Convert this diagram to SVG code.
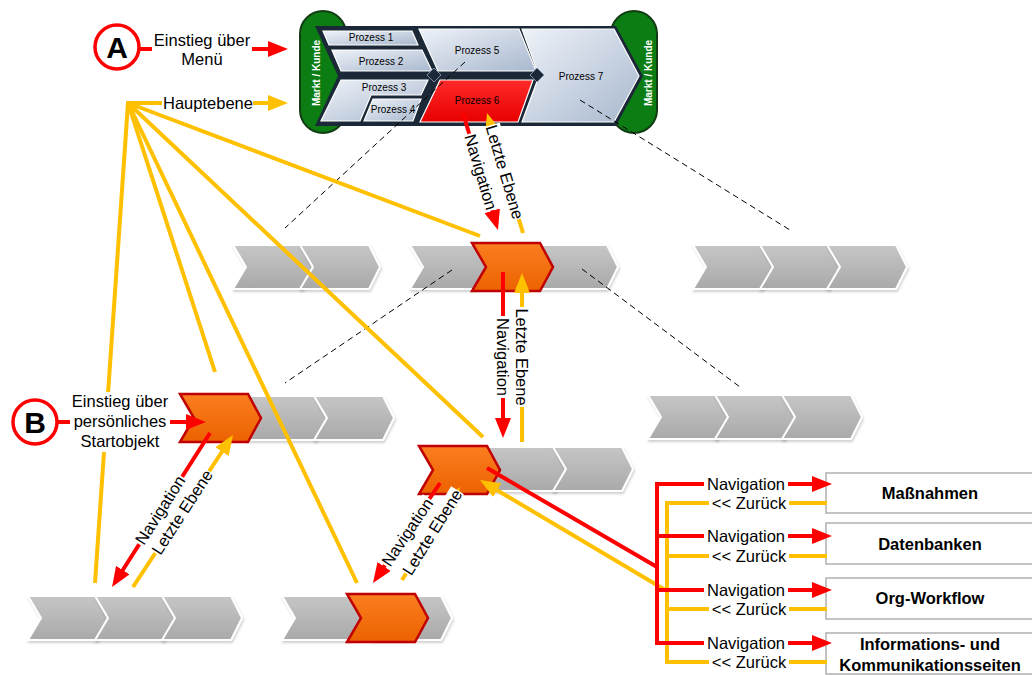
<svg xmlns="http://www.w3.org/2000/svg" width="1032" height="675" viewBox="0 0 1032 675">
<defs>
  <linearGradient id="gGray" x1="0" y1="0" x2="0" y2="1"><stop offset="0" stop-color="#c6c6c6"/><stop offset="1" stop-color="#a9a9a9"/></linearGradient>
  <linearGradient id="gOr" x1="0" y1="0" x2="0" y2="1"><stop offset="0" stop-color="#fb7e20"/><stop offset="1" stop-color="#ec6200"/></linearGradient>
  <linearGradient id="gBlue" x1="0" y1="0" x2="1" y2="1"><stop offset="0" stop-color="#eef2f8"/><stop offset="1" stop-color="#a8b8ce"/></linearGradient>
  <linearGradient id="gRed" x1="0" y1="0" x2="0" y2="1"><stop offset="0" stop-color="#ff2a2a"/><stop offset="1" stop-color="#e80000"/></linearGradient>
  <filter id="sh" x="-10%" y="-10%" width="125%" height="130%"><feDropShadow dx="1" dy="2" stdDeviation="1" flood-color="#000" flood-opacity="0.18"/></filter>
  <marker id="aR" markerUnits="userSpaceOnUse" markerWidth="20" markerHeight="16" viewBox="0 0 20 16" refX="2" refY="8" orient="auto"><path d="M0,0 L20,8 L0,16 z" fill="#ff0000"/></marker>
  <marker id="aY" markerUnits="userSpaceOnUse" markerWidth="20" markerHeight="16" viewBox="0 0 20 16" refX="2" refY="8" orient="auto"><path d="M0,0 L20,8 L0,16 z" fill="#ffc000"/></marker>
  <path id="cg" d="M0,0H69L80,22L69,44H0L13,22Z"/>
  <path id="co" d="M0,0H68L81,24L68,48H0L14,24Z"/>
</defs>
<style>
  .t{font-family:"Liberation Sans",Arial,sans-serif;font-size:16.5px;fill:#000}
  .tb{font-weight:bold}
  .pz{font-size:10px}
  .mk{font-size:10px;font-weight:bold;fill:#fff}
  .gray{fill:url(#gGray);stroke:#fff;stroke-width:2;filter:url(#sh)}
  .orng{fill:url(#gOr);stroke:#c00000;stroke-width:2.5}
  .piece{fill:url(#gBlue);stroke:#fff;stroke-width:1.2}
  .red{stroke:#ff0000;stroke-width:4;fill:none}
  .yel{stroke:#ffc000;stroke-width:4;fill:none}
  .dash{stroke:#000;stroke-width:1;stroke-dasharray:6 4;fill:none}
  .bg{fill:#fff}
  .box{fill:#fff;stroke:#b0b0b0;stroke-width:1.5}
</style>

<!-- chevron groups -->
<g id="row1-left"><use href="#cg" class="gray" x="233" y="245"/><use href="#cg" class="gray" x="300" y="245"/></g>
<g id="row1-mid"><use href="#cg" class="gray" x="410" y="245"/><use href="#cg" class="gray" x="538" y="245"/><use href="#co" class="orng" x="472" y="243"/></g>
<g id="row1-right"><use href="#cg" class="gray" x="693" y="245"/><use href="#cg" class="gray" x="760" y="245"/><use href="#cg" class="gray" x="827" y="245"/></g>
<g id="row2-left"><use href="#cg" class="gray" x="247" y="396"/><use href="#cg" class="gray" x="314" y="396"/><use href="#co" class="orng" x="180" y="394"/></g>
<g id="row2-right"><use href="#cg" class="gray" x="648" y="395"/><use href="#cg" class="gray" x="715" y="395"/><use href="#cg" class="gray" x="782" y="395"/></g>
<g id="row3-mid"><use href="#cg" class="gray" x="486" y="447"/><use href="#cg" class="gray" x="553" y="447"/><use href="#co" class="orng" x="419" y="446"/></g>
<g id="row4-left"><use href="#cg" class="gray" x="28" y="596"/><use href="#cg" class="gray" x="95" y="596"/><use href="#cg" class="gray" x="162" y="596"/></g>
<g id="row4-mid"><use href="#cg" class="gray" x="282" y="596"/><use href="#cg" class="gray" x="372" y="596"/><use href="#co" class="orng" x="347" y="594"/></g>

<!-- top process band -->
<g id="process-map">
  <rect x="300" y="11" width="46" height="122" rx="23" fill="#0b7d12" stroke="#123d14" stroke-width="2"/>
  <rect x="611" y="11" width="46" height="122" rx="23" fill="#0b7d12" stroke="#123d14" stroke-width="2"/>
  <polygon points="315,26 616,26 643,76 616,126 315,126 338,76" fill="#1b2838"/>
  <polygon class="piece" points="323,31 412,31 418,45 329,45"/>
  <polygon class="piece" points="332,50 422,50 432,71 341,71"/>
  <polygon class="piece" points="341,80 428,80 421,95 371,95 360,121 321,121"/>
  <polygon class="piece" points="373,99 421,99 413,121 364,121"/>
  <polygon class="piece" points="419,29 519,29 536,71 438,71"/>
  <polygon points="440,80 533,80 518,122 420,122" fill="url(#gRed)" stroke="#fff" stroke-width="1.2"/>
  <polygon class="piece" points="522,29 614,29 639,76 614,122 522,122 539,76"/>
  <polygon points="434,68 441,75 434,82 427,75" fill="#1b2838" stroke="#7d8da5" stroke-width="1"/>
  <polygon points="537,68 544,75 537,82 530,75" fill="#1b2838" stroke="#7d8da5" stroke-width="1"/>
  <text class="t pz" x="371" y="41" text-anchor="middle">Prozess 1</text>
  <text class="t pz" x="381" y="64.5" text-anchor="middle">Prozess 2</text>
  <text class="t pz" x="384" y="90.5" text-anchor="middle">Prozess 3</text>
  <text class="t pz" x="393" y="112.5" text-anchor="middle">Prozess 4</text>
  <text class="t pz" x="477" y="53.5" text-anchor="middle">Prozess 5</text>
  <text class="t pz" x="477" y="103.5" text-anchor="middle">Prozess 6</text>
  <text class="t pz" x="581" y="79.5" text-anchor="middle">Prozess 7</text>
  <text class="t mk" transform="translate(319.5,73) rotate(-90)" text-anchor="middle">Markt / Kunde</text>
  <text class="t mk" transform="translate(651.5,73) rotate(-90)" text-anchor="middle">Markt / Kunde</text>
</g>

<!-- boxes -->
<g id="box-massnahmen"><rect class="box" x="826" y="473" width="210" height="40"/><text class="t tb" x="930" y="499" text-anchor="middle">Maßnahmen</text></g>
<g id="box-datenbanken"><rect class="box" x="826" y="523" width="210" height="41"/><text class="t tb" x="930" y="550" text-anchor="middle">Datenbanken</text></g>
<g id="box-orgworkflow"><rect class="box" x="826" y="578" width="210" height="41"/><text class="t tb" x="930" y="604" text-anchor="middle">Org-Workflow</text></g>
<g id="box-info"><rect class="box" x="826" y="633" width="210" height="41"/><text class="t tb" x="930" y="650" text-anchor="middle">Informations- und</text><text class="t tb" x="930" y="671" text-anchor="middle">Kommunikationsseiten</text></g>

<!-- connectors -->
<g id="connectors">
  <path class="dash" d="M465,62 L285,228"/>
  <path class="dash" d="M580,100 L790,230"/>
  <path class="dash" d="M452,270 L285,383"/>
  <path class="dash" d="M582,269 L740,387"/>
  <!-- entry arrows -->
  <path class="red" d="M139,49 H152"/>
  <path class="red" d="M252,49 H270" marker-end="url(#aR)"/>
  <path class="red" d="M57,422 H70"/>
  <path class="red" d="M170,422 H188" marker-end="url(#aR)"/>
  <!-- hub -->
  <path class="yel" d="M126,103 H162"/>
  <path class="yel" d="M253,103 H270" marker-end="url(#aY)"/>
  <path class="yel" d="M128,103 L95,583"/>
  <path class="yel" d="M128,103 L215,372"/>
  <path class="yel" d="M128,103 L357,583"/>
  <path class="yel" d="M128,103 L483,437"/>
  <path class="yel" d="M128,103 L480,236"/>
  <!-- top level navigation -->
  <path class="red" d="M463,113 L492.8,212.7" marker-end="url(#aR)"/>
  <path class="yel" d="M523,233 L492.2,130.2" marker-end="url(#aY)"/>
  <!-- middle vertical -->
  <path class="red" d="M503,272 V420" marker-end="url(#aR)"/>
  <path class="yel" d="M522,442 V291" marker-end="url(#aY)"/>
  <!-- left diagonal -->
  <path class="red" d="M210,433 L121.7,571.8" marker-end="url(#aR)"/>
  <path class="yel" d="M133,587 L223.1,450" marker-end="url(#aY)"/>
  <!-- middle diagonal -->
  <path class="red" d="M440,483 L383,568.1" marker-end="url(#aR)"/>
  <path class="yel" d="M402,580 L450.5,502.3" marker-end="url(#aY)"/>
  <!-- to bracket -->
  <path class="red" d="M487,468 L657,567"/>
  <path class="yel" d="M667,591 L495.5,489.2" marker-end="url(#aY)"/>
  <path class="red" d="M657,483 V643"/>
  <path class="yel" d="M667,503 V662"/>
  <path class="red" d="M655,484 H814" marker-end="url(#aR)"/>
  <path class="red" d="M657,536 H814" marker-end="url(#aR)"/>
  <path class="red" d="M657,590 H814" marker-end="url(#aR)"/>
  <path class="red" d="M655,643 H814" marker-end="url(#aR)"/>
  <path class="yel" d="M665,503 H827"/>
  <path class="yel" d="M667,556 H827"/>
  <path class="yel" d="M667,609 H827"/>
  <path class="yel" d="M665,662 H827"/>
</g>

<!-- entry labels -->
<g id="entry-a">
  <circle cx="117" cy="47" r="22" fill="#fff" stroke="#ff0000" stroke-width="3.5"/>
  <text class="t tb" x="117" y="58" text-anchor="middle" style="font-size:30px">A</text>
  <text class="t" x="202" y="46" text-anchor="middle">Einstieg über</text>
  <text class="t" x="202" y="65" text-anchor="middle">Menü</text>
</g>
<g id="entry-b">
  <circle cx="35" cy="422" r="22" fill="#fff" stroke="#ff0000" stroke-width="3.5"/>
  <text class="t tb" x="35" y="433" text-anchor="middle" style="font-size:30px">B</text>
  <rect class="bg" x="71" y="392" width="98" height="60"/>
  <text class="t" x="120" y="407" text-anchor="middle">Einstieg über</text>
  <text class="t" x="120" y="427" text-anchor="middle">persönliches</text>
  <text class="t" x="120" y="447" text-anchor="middle">Startobjekt</text>
</g>
<g id="hauptebene"><text class="t" x="208" y="109" text-anchor="middle">Hauptebene</text></g>

<!-- connector labels -->
<g id="labels-top">
  <rect class="bg" transform="translate(481,172) rotate(73.5)" x="-40" y="-9" width="80" height="17"/>
  <rect class="bg" transform="translate(505,172) rotate(73.5)" x="-49" y="-9" width="98" height="17"/>
  <text class="t" transform="translate(481,172) rotate(73.5)" x="0" y="6" text-anchor="middle">Navigation</text>
  <text class="t" transform="translate(505,172) rotate(73.5)" x="0" y="6" text-anchor="middle">Letzte Ebene</text>
</g>
<g id="labels-mid">
  <rect class="bg" transform="translate(503,357) rotate(90)" x="-41" y="-9" width="82" height="17"/>
  <rect class="bg" transform="translate(522,357) rotate(90)" x="-50" y="-8" width="100" height="16"/>
  <text class="t" transform="translate(503,357) rotate(90)" x="0" y="6" text-anchor="middle">Navigation</text>
  <text class="t" transform="translate(522,357) rotate(90)" x="0" y="6" text-anchor="middle">Letzte Ebene</text>
</g>
<g id="labels-left">
  <rect class="bg" transform="translate(160,510) rotate(-57.5)" x="-40" y="-8" width="80" height="15"/>
  <rect class="bg" transform="translate(182,512) rotate(-57)" x="-49" y="-8" width="98" height="15"/>
  <text class="t" transform="translate(160,510) rotate(-57.5)" x="0" y="6" text-anchor="middle">Navigation</text>
  <text class="t" transform="translate(182,512) rotate(-57)" x="0" y="6" text-anchor="middle">Letzte Ebene</text>
</g>
<g id="labels-midlow">
  <rect class="bg" transform="translate(407,532) rotate(-56)" x="-40" y="-8" width="80" height="15"/>
  <rect class="bg" transform="translate(432,532) rotate(-58)" x="-49" y="-8" width="98" height="15"/>
  <text class="t" transform="translate(407,532) rotate(-56)" x="0" y="6" text-anchor="middle">Navigation</text>
  <text class="t" transform="translate(432,532) rotate(-58)" x="0" y="6" text-anchor="middle">Letzte Ebene</text>
</g>
<g id="labels-right">
  <rect class="bg" x="704" y="475" width="84" height="17"/>
  <rect class="bg" x="704" y="527" width="84" height="17"/>
  <rect class="bg" x="704" y="581" width="84" height="17"/>
  <rect class="bg" x="704" y="634" width="84" height="17"/>
  <rect class="bg" x="709" y="495" width="80" height="16"/>
  <rect class="bg" x="709" y="548" width="80" height="16"/>
  <rect class="bg" x="709" y="601" width="80" height="16"/>
  <rect class="bg" x="709" y="654" width="80" height="16"/>
  <text class="t" x="746" y="490" text-anchor="middle">Navigation</text>
  <text class="t" x="746" y="542" text-anchor="middle">Navigation</text>
  <text class="t" x="746" y="596" text-anchor="middle">Navigation</text>
  <text class="t" x="746" y="649" text-anchor="middle">Navigation</text>
  <text class="t" x="749" y="509" text-anchor="middle">&lt;&lt; Zurück</text>
  <text class="t" x="749" y="562" text-anchor="middle">&lt;&lt; Zurück</text>
  <text class="t" x="749" y="615" text-anchor="middle">&lt;&lt; Zurück</text>
  <text class="t" x="749" y="668" text-anchor="middle">&lt;&lt; Zurück</text>
</g>
</svg>
